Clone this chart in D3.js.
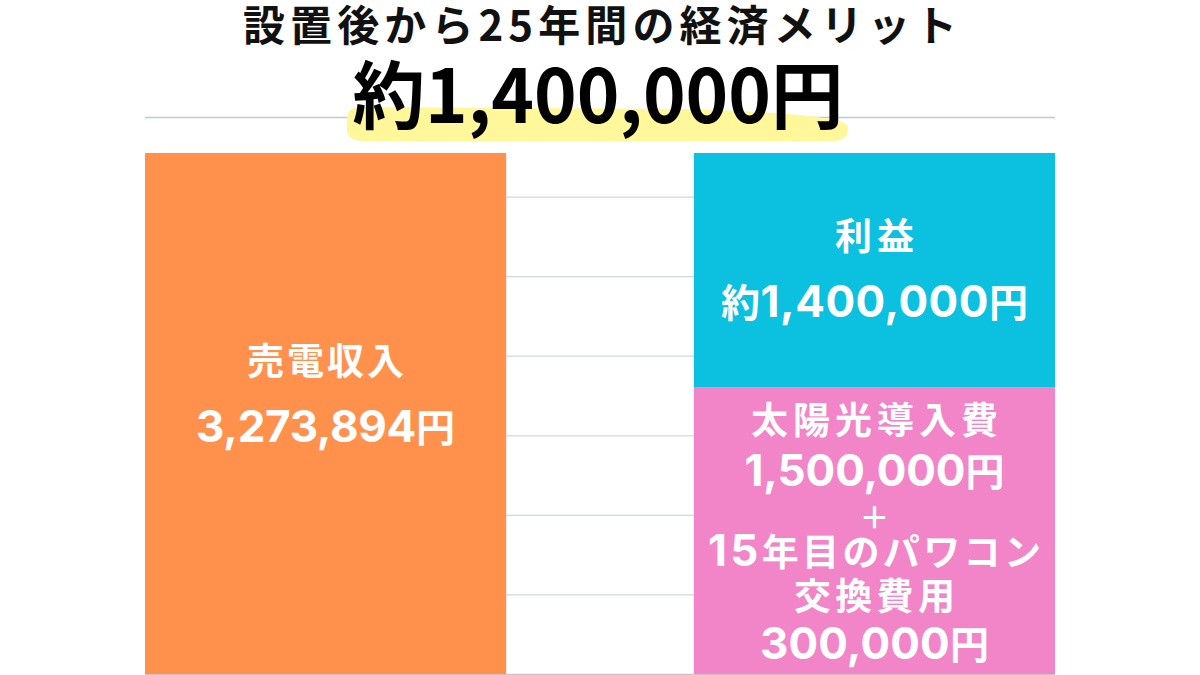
<!DOCTYPE html>
<html lang="ja">
<head>
<meta charset="UTF-8">
<title>設置後から25年間の経済メリット</title>
<style>
    body { margin: 0; background: #fff; }
    #chart { width: 1200px; height: 675px; }
    text { font-family: "Noto Sans CJK JP", "Noto Sans", sans-serif; font-weight: 700; }
    tspan.num { font-family: Inter, "Noto Sans CJK JP", sans-serif; font-weight: 700; }
</style>
</head>
<body>
<div id="chart"></div>
<script src="https://d3js.org/d3.v7.min.js"></script>
<script>
// data
const categories = ["売電収入", "費用と利益"];
const revenue = [3273894, 0];      // 売電収入
const cost = [0, 1800000];         // 太陽光導入費 1,500,000 + パワコン交換費 300,000
const profit = [0, 1473894];       // 利益 (約1,400,000円)
const seriesKeys = ["revenue", "cost", "profit"];
const seriesColors = { revenue: "#ff914d", cost: "#f285c8", profit: "#0cc0df" };

const titleText = "設置後から25年間の経済メリット";
const bigText = "約1,400,000円";
const revenueLabels = ["売電収入", "3,273,894円"];
const profitLabels = ["利益", "約1,400,000円"];
const costLabels = ["太陽光導入費", "1,500,000円", "＋", "15年目のパワコン", "交換費用", "300,000円"];

const W = 1200, H = 675;
const margin = { top: 117, right: 145, bottom: 1, left: 145 };
const width = W - margin.left - margin.right;
const height = H - margin.top - margin.bottom;

const table = categories.map((c, i) => ({ cat: c, revenue: revenue[i], cost: cost[i], profit: profit[i] }));
const stacked = d3.stack().keys(seriesKeys)(table);

const svg = d3.select("#chart").append("svg")
    .attr("width", W).attr("height", H);

const g = svg.append("g").attr("transform", `translate(${margin.left},${margin.top})`);

const x = d3.scaleBand().domain(categories).range([0, width]).paddingInner(0.342).paddingOuter(0);
const y = d3.scaleLinear().domain([0, 3500000]).range([height, 0]);

// gridlines
const grid = g.append("g")
    .call(d3.axisLeft(y).tickValues(d3.range(0, 3500001, 500000)).tickSize(-width).tickFormat(""));
grid.select(".domain").remove();
grid.selectAll(".tick line")
    .attr("stroke", d => (d === 3500000 || d === 0) ? "#c4c7cb" : "#d3d7dc")
    .attr("stroke-width", 1.3);

// bars
g.selectAll(".series")
    .data(stacked)
    .join("g")
    .attr("fill", d => seriesColors[d.key])
    .selectAll("rect")
    .data(d => d.filter(p => p[1] > p[0]))
    .join("rect")
    .attr("x", d => x(d.data.cat))
    .attr("y", d => y(d[1]))
    .attr("width", x.bandwidth())
    .attr("height", d => y(d[0]) - y(d[1]));

// highlight marker under the big number
svg.append("path")
    .attr("d", "M360,107 L690,109 Q842,114 848,126 Q850,140 832,141 L362,141 Q347,141 347,128 L347,120 Q347,107 360,107 Z")
    .attr("fill", "#fff799");

// titles
svg.append("text")
    .attr("x", 600).attr("y", 41)
    .attr("text-anchor", "middle")
    .attr("font-size", 42)
    .attr("textLength", 714).attr("lengthAdjust", "spacing")
    .attr("fill", "#111")
    .text(titleText);

svg.append("text")
    .attr("x", 598).attr("y", 123)
    .attr("text-anchor", "middle")
    .attr("font-size", 74)
    .attr("textLength", 491).attr("lengthAdjust", "spacingAndGlyphs")
    .attr("fill", "#000")
    .text(bigText);

// split a label so that digit runs get the wider latin face
function fillRuns(textSel, str, numSize) {
    str.split(/([0-9,]+)/).filter(s => s).forEach(s => {
        const t = textSel.append("tspan").text(s);
        if (/^[0-9,]+$/.test(s)) t.attr("class", "num").attr("font-size", numSize);
    });
}

// labels inside the bars; widths are the spans
function labelBlock(lines, widths, cx, baselines) {
    lines.forEach((line, i) => {
        const hasNum = /[0-9]/.test(line) && /円$/.test(line);
        const t = g.append("text")
            .attr("x", cx)
            .attr("y", baselines[i] - margin.top)
            .attr("text-anchor", "middle")
            .attr("font-size", line === "＋" ? 30 : (hasNum ? 39 : 37))
            .attr("textLength", widths[i])
            .attr("lengthAdjust", "spacing")
            .attr("fill", "#fff");
        fillRuns(t, line, 44);
    });
}
const cx0 = x(categories[0]) + x.bandwidth() / 2;
const cx1 = x(categories[1]) + x.bandwidth() / 2;
labelBlock(revenueLabels, [157, 259], cx0, [375, 442]);
labelBlock(profitLabels, [79, 307], cx1, [250, 317]);
labelBlock(costLabels, [247, 260, 22, 333, 161, 229], cx1, [434, 486, 528, 566, 610, 659]);
</script>
</body>
</html>
